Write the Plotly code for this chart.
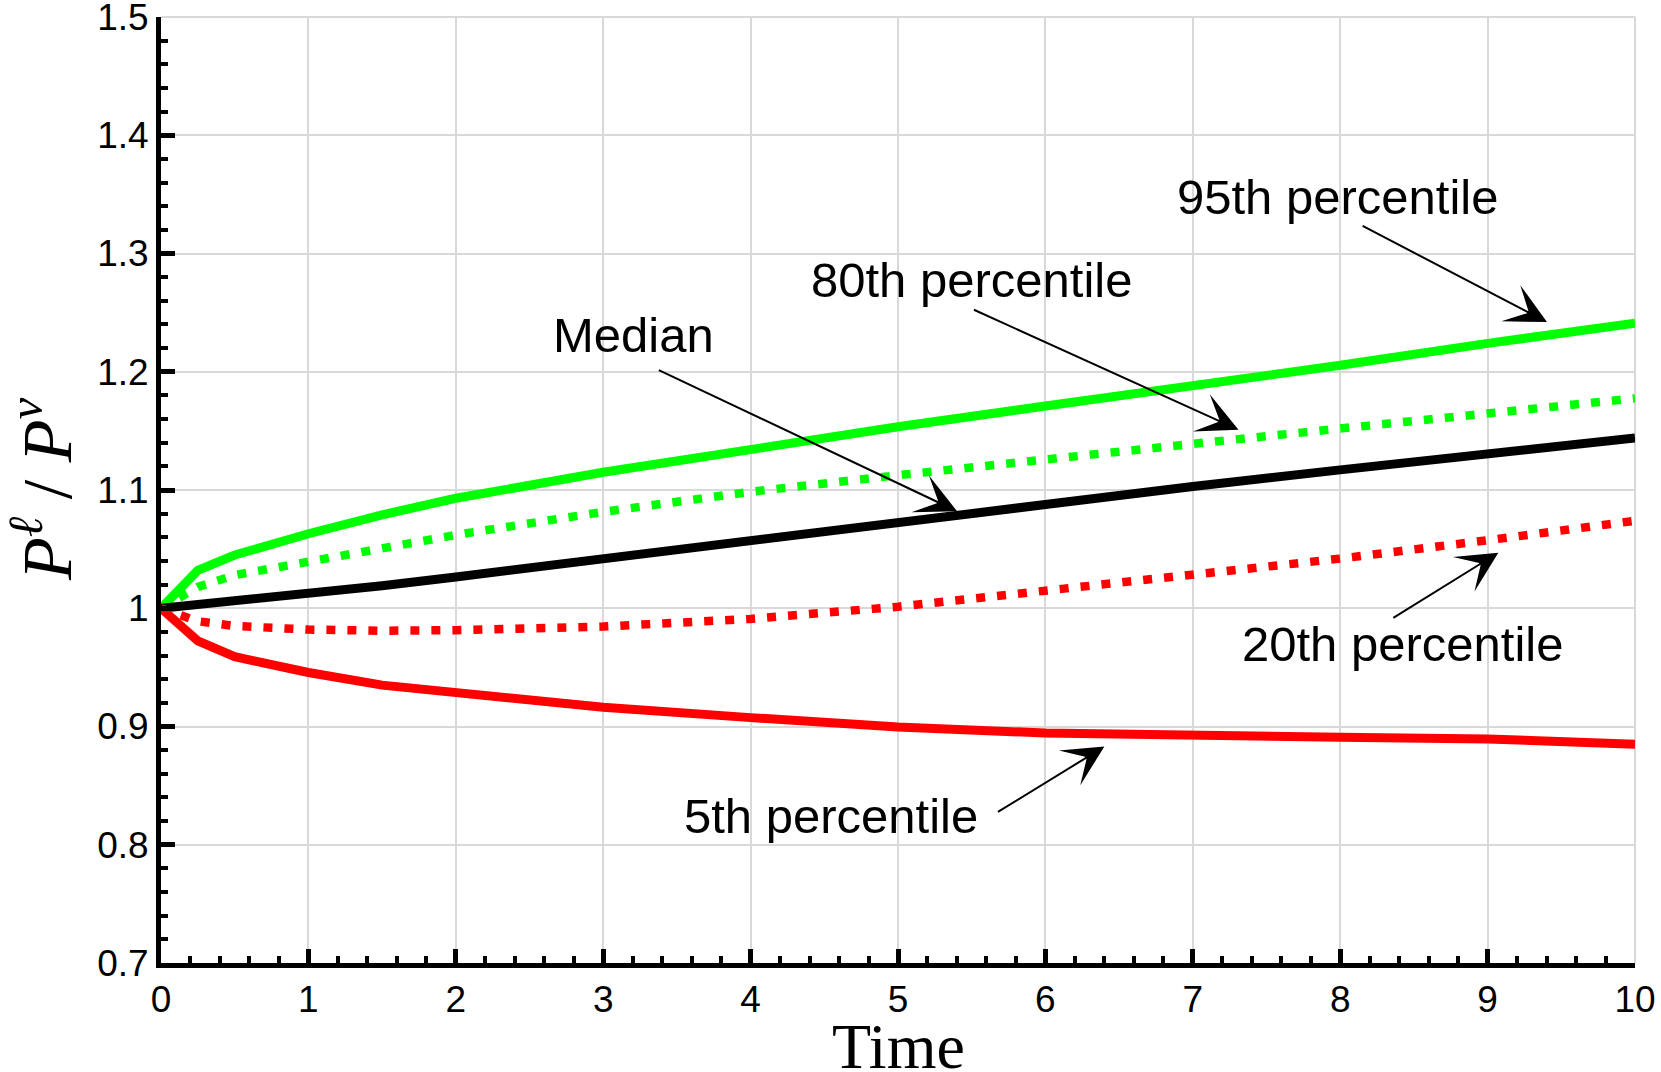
import plotly.graph_objects as go

# ---- data ----
time = [0, 0.25, 0.5, 1, 1.5, 2, 3, 4, 5, 6, 7, 8, 9, 10]
p95 = [1.0, 1.032, 1.045, 1.063, 1.079, 1.093, 1.115, 1.135, 1.1535, 1.171, 1.188, 1.2055, 1.224, 1.241]
p80 = [1.0, 1.018, 1.028, 1.039, 1.051, 1.062, 1.0815, 1.0985, 1.1125, 1.125, 1.139, 1.152, 1.164, 1.1775]
median = [1.0, 1.003, 1.006, 1.0127, 1.019, 1.0265, 1.042, 1.056, 1.0715, 1.088, 1.103, 1.117, 1.131, 1.144]
p20 = [1.0, 0.989, 0.985, 0.982, 0.981, 0.9815, 0.9845, 0.991, 1.0013, 1.0145, 1.028, 1.042, 1.0575, 1.074]
p5 = [1.0, 0.9724, 0.959, 0.9457, 0.935, 0.9287, 0.9163, 0.9075, 0.8995, 0.8945, 0.892, 0.891, 0.8895, 0.8850]

x_ticks = list(range(0, 11))
y_ticks = [0.7, 0.8, 0.9, 1.0, 1.1, 1.2, 1.3, 1.4, 1.5]
y_tick_text = ["0.7", "0.8", "0.9", "1", "1.1", "1.2", "1.3", "1.4", "1.5"]

x_title = "Time"
y_title = "<i>P</i><sup><i>ℓ</i></sup> / <i>P</i><sup><i>v</i></sup>"

# label: (text, text_x, text_y, tail_x, tail_y, head_x, head_y)
labels = [
    ("95th percentile", 7.98, 1.348, 8.142, 1.324, 9.403, 1.242),
    ("80th percentile", 5.498, 1.278, 5.505, 1.253, 7.31, 1.151),
    ("Median", 3.207, 1.231, 3.367, 1.202, 5.401, 1.082),
    ("20th percentile", 8.424, 0.970, 8.35, 0.991, 9.073, 1.047),
    ("5th percentile", 4.546, 0.824, 5.668, 0.827, 6.40, 0.883),
]

GREEN = "#00ff00"
RED = "#ff0000"
DOT = "9px,12px"
GRID = "#d9d9d9"
SANS = "Liberation Sans, Arial, sans-serif"
SERIF = "Liberation Serif, DejaVu Serif, serif"

fig = go.Figure()
fig.add_trace(go.Scatter(x=time, y=p95, mode="lines", line=dict(color=GREEN, width=9), name="95th"))
fig.add_trace(go.Scatter(x=time, y=p80, mode="lines", line=dict(color=GREEN, width=8.5, dash=DOT), name="80th"))
fig.add_trace(go.Scatter(x=time, y=median, mode="lines", line=dict(color="black", width=9), name="Median"))
fig.add_trace(go.Scatter(x=time, y=p20, mode="lines", line=dict(color=RED, width=8.5, dash=DOT), name="20th"))
fig.add_trace(go.Scatter(x=time, y=p5, mode="lines", line=dict(color=RED, width=9), name="5th"))

annotations = []
for text, tx, ty, ax, ay, hx, hy in labels:
    annotations.append(dict(
        x=hx, y=hy, ax=ax, ay=ay, xref="x", yref="y", axref="x", ayref="y",
        text="", showarrow=True, arrowhead=3, arrowsize=3.4, arrowwidth=2,
        arrowcolor="black", standoff=0, startstandoff=0,
    ))
    annotations.append(dict(
        x=tx, y=ty, xref="x", yref="y", text=text, showarrow=False,
        xanchor="center", yanchor="middle",
        font=dict(family=SANS, size=49, color="black"),
    ))

# axis titles placed as annotations for exact positioning
annotations.append(dict(
    x=0.5, y=0, xref="paper", yref="paper", xanchor="center", yanchor="top",
    yshift=-46, text=x_title, showarrow=False,
    font=dict(family=SERIF, size=64, color="black"),
))
annotations.append(dict(
    x=0, y=0.5, xref="paper", yref="paper", xanchor="center", yanchor="middle",
    xshift=-119, textangle=-90, text=y_title, showarrow=False,
    font=dict(family=SERIF, size=70, color="black"),
))

axis_common = dict(
    showline=True, linecolor="black", linewidth=5,
    ticks="inside", ticklen=14, tickwidth=5, tickcolor="black",
    showgrid=True, gridcolor=GRID, gridwidth=2,
    zeroline=False, mirror=False, ticklabeloverflow="allow", automargin=False,
    tickfont=dict(family=SANS, size=37, color="black"),
)

# frame lines on the top and right edges (grey, like the grid)
shapes = [
    dict(type="line", xref="paper", yref="paper", x0=0, x1=1, y0=1, y1=1,
         line=dict(color=GRID, width=2), layer="below"),
    dict(type="line", xref="paper", yref="paper", x0=1, x1=1, y0=0, y1=1,
         line=dict(color=GRID, width=2), layer="below"),
]

fig.update_layout(
    width=1661, height=1072,
    margin=dict(l=161, r=26, t=17, b=109, autoexpand=False),
    paper_bgcolor="white", plot_bgcolor="white",
    showlegend=False,
    annotations=annotations,
    shapes=shapes,
    xaxis=dict(
        range=[0, 10], tickmode="array", tickvals=x_ticks,
        minor=dict(dtick=0.2, ticks="inside", ticklen=7, tickwidth=4, tickcolor="black", showgrid=False),
        **axis_common,
    ),
    yaxis=dict(
        range=[0.7, 1.5], tickmode="array", tickvals=y_ticks, ticktext=y_tick_text,
        minor=dict(dtick=0.02, ticks="inside", ticklen=7, tickwidth=4, tickcolor="black", showgrid=False),
        **axis_common,
    ),
)

fig.write_html("out.html", config={"displayModeBar": False},
               post_script="document.body.style.margin='0px';")
